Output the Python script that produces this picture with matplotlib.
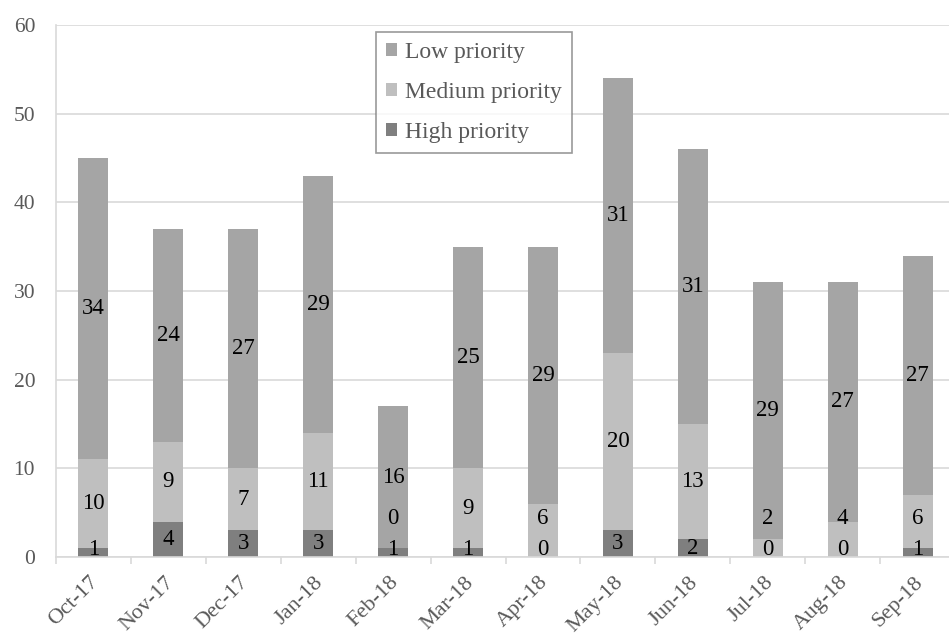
import matplotlib
matplotlib.use('Agg')
import matplotlib.pyplot as plt
import matplotlib.transforms as mtransforms
import numpy as np

plt.rcParams['font.family'] = ['Liberation Serif', 'DejaVu Serif']

months = ['Oct-17', 'Nov-17', 'Dec-17', 'Jan-18', 'Feb-18', 'Mar-18',
          'Apr-18', 'May-18', 'Jun-18', 'Jul-18', 'Aug-18', 'Sep-18']
high = [1, 4, 3, 3, 1, 1, 0, 3, 2, 0, 0, 1]
medium = [10, 9, 7, 11, 0, 9, 6, 20, 13, 2, 4, 6]
low = [34, 24, 27, 29, 16, 25, 29, 31, 31, 29, 27, 27]

series = [
    ('High priority', high, '#7f7f7f'),
    ('Medium priority', medium, '#bfbfbf'),
    ('Low priority', low, '#a5a5a5'),
]

GRID = '#d9d9d9'
TEXT = '#595959'

fig = plt.figure(figsize=(9.49, 6.35), dpi=100)
ax = fig.add_axes([56 / 949, 78 / 635, 905 / 949, 532 / 635])

x = np.arange(len(months))
bottom = np.zeros(len(months))
bars = {}
label_pos = []
for name, vals, color in series:
    vals = np.array(vals, dtype=float)
    bars[name] = ax.bar(x, vals, width=0.4, bottom=bottom, color=color,
                        label=name, zorder=2)
    label_pos.append(bottom + vals / 2)
    bottom = bottom + vals

# data labels: segment centres, nudged apart so small stacks stay readable
min_gap = 3.4
for i in range(len(months)):
    prev = None
    for k, (name, vals, color) in enumerate(series):
        y = label_pos[k][i]
        if prev is None:
            y = max(y, 0.9)
        else:
            y = max(y, prev + min_gap)
        prev = y
        ax.text(x[i], y, str(vals[i]), ha='center', va='center',
                fontsize=16.5, color='black', zorder=3)

ax.set_ylim(0, 60)
ax.set_xlim(-0.5, len(months) - 0.5 + 0.08)
ax.set_yticks(range(0, 61, 10))
ax.yaxis.grid(True, color=GRID, linewidth=1.2, zorder=0)
ax.set_axisbelow(True)

for side in ('top', 'right'):
    ax.spines[side].set_visible(False)
for side in ('left', 'bottom'):
    ax.spines[side].set_color(GRID)
    ax.spines[side].set_linewidth(1.2)

ax.tick_params(axis='y', length=0, pad=15, labelsize=15.5, labelcolor=TEXT)
ax.set_xticks(x)
ax.set_xticklabels(months, rotation=45, ha='right', rotation_mode='anchor',
                   fontsize=16, color=TEXT)
ax.tick_params(axis='x', which='major', length=0, pad=11.5)
ax.set_xticks(np.arange(-0.5, len(months), 1.0), minor=True)
ax.tick_params(axis='x', which='minor', length=5, color=GRID, width=1.2)

shift = mtransforms.ScaledTranslation(-3 / 72, 0, fig.dpi_scale_trans)
for lbl in ax.get_xticklabels():
    lbl.set_transform(lbl.get_transform() + shift)

handles = [bars['Low priority'], bars['Medium priority'], bars['High priority']]
labels = ['Low priority', 'Medium priority', 'High priority']
leg = ax.legend(handles, labels, loc='upper left',
                bbox_to_anchor=(320 / 905, 1 - 7 / 532), fontsize=17,
                handlelength=0.45, handleheight=0.45, handletextpad=0.35,
                labelspacing=0.8, borderpad=0.42, borderaxespad=0,
                fancybox=False, frameon=True, edgecolor='#808080')
leg.get_frame().set_linewidth(1.2)
for t in leg.get_texts():
    t.set_color(TEXT)

fig.savefig('out.png', dpi=100)
